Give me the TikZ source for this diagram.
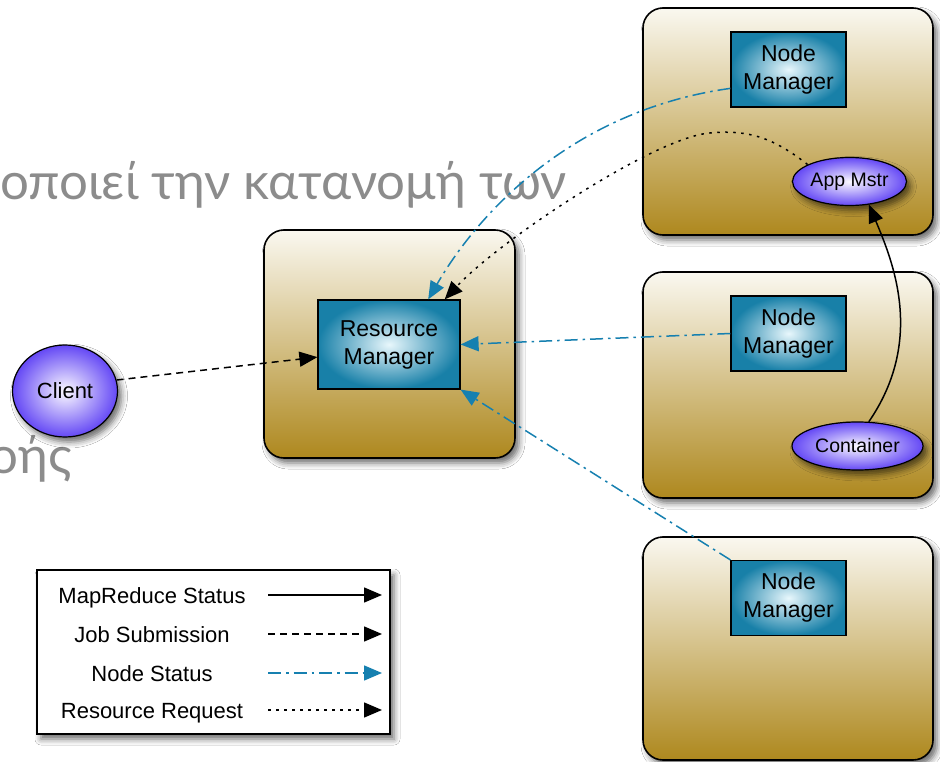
\documentclass[tikz,border=0pt]{standalone}
\usepackage{fontspec}
\setmainfont{Liberation Sans}
\newfontfamily\greekfont{Lato}
\usetikzlibrary{arrows.meta,shadows.blur,shapes.geometric}

\definecolor{boxtop}{RGB}{250,248,240}
\definecolor{boxbot}{RGB}{174,136,30}
\definecolor{nmedge}{RGB}{24,128,168}
\definecolor{nmcenter}{RGB}{232,247,252}
\definecolor{elledge}{RGB}{100,72,245}
\definecolor{ellcenter}{RGB}{252,250,255}
\definecolor{nsblue}{RGB}{22,128,176}
\definecolor{ghost}{RGB}{140,140,140}

\tikzset{
  softshadow/.style={blur shadow={shadow xshift=4pt, shadow yshift=-5pt,
      shadow blur radius=6pt, shadow opacity=58}},
  host/.style={draw=black, line width=1.6pt, rounded corners=20pt,
      top color=boxtop, bottom color=boxbot, softshadow, inner sep=0pt},
  mgr/.style={draw=black, line width=1.2pt, inner color=nmcenter, outer color=nmedge,
      align=center, inner sep=0pt, font=\fontsize{23}{28}\selectfont},
  proc/.style={ellipse, draw=black, line width=1.2pt, inner color=ellcenter,
      outer color=elledge, inner sep=0pt, softshadow},
  ghosttext/.style={font=\greekfont\fontsize{51}{51}\selectfont, text=ghost, inner sep=0pt},
  legendtext/.style={font=\fontsize{22}{24}\selectfont, inner sep=0pt},
  tip/.style={-{Triangle[length=18pt,width=15pt]}},
  mrstatus/.style={tip, line width=1.5pt, draw=black},
  jobsub/.style={tip, line width=1.5pt, draw=black, dash pattern=on 7pt off 5pt},
  nodestat/.style={tip, line width=1.5pt, draw=nsblue,
      dash pattern=on 13pt off 5pt on 2.5pt off 5pt},
  resreq/.style={tip, line width=1.5pt, draw=black, dash pattern=on 2.5pt off 5.5pt},
}

\begin{document}
\begin{tikzpicture}[x=1pt,y=-1pt]
\useasboundingbox (0,0) rectangle (940,762);
\fill[white] (0,0) rectangle (940,762);

% slide text in the background
\begin{scope}
  \clip (0,0) rectangle (940,762);
  \node[ghosttext, anchor=base west] (slide1) at (0,200) {οποιεί την κατανομή των};
  \node[ghosttext, anchor=base east] (slide2) at (72,473) {ροής};
\end{scope}

% hosts
\node[host, minimum width=290pt, minimum height=227pt] (host1) at (788,121.5) {};
\node[host, minimum width=290pt, minimum height=226pt] (host2) at (788,385) {};
\node[host, minimum width=290pt, minimum height=223pt] (host3) at (788,648.5) {};
\node[host, minimum width=251pt, minimum height=228pt] (rmhost) at (389.5,344) {};

% legend frame
\node[draw=black, line width=1.6pt, fill=white, softshadow,
      minimum width=353pt, minimum height=164pt] (legend) at (213.5,652) {};

% managers
\node[mgr, minimum width=142pt, minimum height=89pt] (rm) at (389,344.5) {Resource\\Manager};
\node[mgr, minimum width=115pt, minimum height=75pt] (nm1) at (788.5,69.5) {Node\\Manager};
\node[mgr, minimum width=115pt, minimum height=75pt] (nm2) at (788.5,333.5) {Node\\Manager};
\node[mgr, minimum width=115pt, minimum height=75pt] (nm3) at (788.5,598) {Node\\Manager};

% processes
\node[proc, minimum width=105pt, minimum height=92pt, font=\fontsize{22}{24}\selectfont]
  (client) at (65,391) {Client};
\node[proc, minimum width=114pt, minimum height=48pt, font=\fontsize{19.5}{21}\selectfont]
  (appm) at (849.5,181.5) {App Mstr};
\node[proc, minimum width=131pt, minimum height=48pt, font=\fontsize{19.5}{21}\selectfont]
  (cont) at (857.5,446) {Container};

% connectors
\draw[jobsub] (client.12) -- (rm.190);
\draw[nodestat] (nm1.198) .. controls (575,110) and (480,210) .. (rm.49);
\draw[resreq] (appm.158) .. controls (770,135) and (745,130) .. (710,133)
              .. controls (655,137) and (500,240) .. (rm.39);
\draw[nodestat] (nm2.west) -- (rm.east);
\draw[nodestat] (nm3.north west) -- (rm.south east);
\draw[mrstatus] (cont.65) .. controls (925,340) and (893,262) .. (appm.-50);

% legend entries
\node[legendtext, anchor=base] (lg1) at (152,603) {MapReduce Status};
\node[legendtext, anchor=base] (lg2) at (152,642) {Job Submission};
\node[legendtext, anchor=base] (lg3) at (152,681) {Node Status};
\node[legendtext, anchor=base] (lg4) at (152,718) {Resource Request};
\coordinate (s1) at (268,595); \coordinate (e1) at (382,595);
\coordinate (s2) at (268,634); \coordinate (e2) at (382,634);
\coordinate (s3) at (268,673); \coordinate (e3) at (382,673);
\coordinate (s4) at (268,710); \coordinate (e4) at (382,710);
\draw[mrstatus] (s1) -- (e1);
\draw[jobsub] (s2) -- (e2);
\draw[nodestat] (s3) -- (e3);
\draw[resreq] (s4) -- (e4);
\end{tikzpicture}
\end{document}
